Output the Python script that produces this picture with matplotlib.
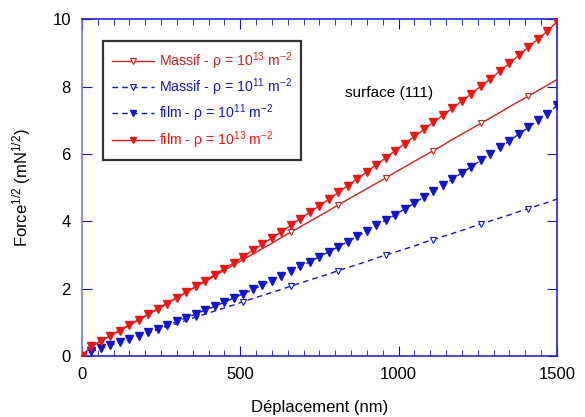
import matplotlib
matplotlib.use("Agg")
import matplotlib.pyplot as plt
import numpy as np

plt.rcParams['font.family'] = ['Liberation Sans', 'DejaVu Sans']
plt.rcParams['mathtext.default'] = 'regular'

# displacement (nm), one point every 30 nm
depl = np.arange(0, 1501, 30)

# film, rho = 1e13 (red, filled)
film_13 = [0, 0.30, 0.45, 0.60, 0.76, 0.92, 1.07, 1.24, 1.40, 1.56,
           1.73, 1.90, 2.07, 2.24, 2.42, 2.60, 2.77, 2.95, 3.14, 3.32,
           3.51, 3.69, 3.88, 4.08, 4.27, 4.46, 4.66, 4.86, 5.06, 5.27,
           5.47, 5.68, 5.89, 6.10, 6.31, 6.52, 6.73, 6.94, 7.15, 7.36,
           7.57, 7.79, 8.01, 8.23, 8.46, 8.69, 8.93, 9.17, 9.41, 9.65, 9.92]

# film, rho = 1e11 (blue, filled)
film_11 = [0, 0.15, 0.23, 0.32, 0.42, 0.51, 0.61, 0.71, 0.81, 0.92,
           1.03, 1.14, 1.25, 1.37, 1.48, 1.60, 1.73, 1.85, 1.98, 2.11,
           2.24, 2.38, 2.52, 2.66, 2.80, 2.95, 3.10, 3.25, 3.40, 3.56,
           3.71, 3.88, 4.04, 4.20, 4.37, 4.54, 4.72, 4.89, 5.07, 5.25,
           5.44, 5.62, 5.81, 6.00, 6.20, 6.39, 6.59, 6.79, 7.00, 7.20, 7.44]

# massif, rho = 1e13 (red, open)
massif_13 = [0, 0.28, 0.44, 0.61, 0.77, 0.93, 1.09, 1.25, 1.41, 1.58,
             1.74, 1.90, 2.06, 2.22, 2.38, 2.55, 2.71, 2.87, 3.03, 3.19,
             3.35, 3.52, 3.68, 3.84, 4.00, 4.16, 4.32, 4.49, 4.65, 4.81,
             4.97, 5.13, 5.29, 5.46, 5.62, 5.78, 5.94, 6.10, 6.26, 6.43,
             6.59, 6.75, 6.91, 7.07, 7.23, 7.40, 7.56, 7.72, 7.88, 8.04, 8.21]

# massif, rho = 1e11 (blue, open)
massif_11 = [0, 0.14, 0.23, 0.33, 0.42, 0.51, 0.60, 0.69, 0.79, 0.88,
             0.97, 1.06, 1.16, 1.25, 1.34, 1.43, 1.52, 1.62, 1.71, 1.80,
             1.89, 1.98, 2.08, 2.17, 2.26, 2.35, 2.44, 2.54, 2.63, 2.72,
             2.81, 2.91, 3.00, 3.09, 3.18, 3.27, 3.37, 3.46, 3.55, 3.64,
             3.73, 3.83, 3.92, 4.01, 4.10, 4.19, 4.29, 4.38, 4.47, 4.56, 4.66]

red = '#f01515'
dark_red = '#cc2222'
blue = '#1414cc'
open_marks = slice(2, None, 5)

fig = plt.figure(figsize=(5.85, 4.17), dpi=100)
ax = fig.add_axes([0.140, 0.146, 0.812, 0.808])

ax.plot(depl, massif_13, color=dark_red, lw=1, marker='v', ms=5,
        mfc='white', mec=dark_red, mew=0.8, markevery=open_marks,
        label='Massif - ρ = 10$^{13}$ m$^{-2}$', zorder=3)
ax.plot(depl, massif_11, color=blue, lw=1, ls=(0, (4, 3)), marker='v', ms=5,
        mfc='white', mec=blue, mew=0.8, markevery=open_marks,
        label='Massif - ρ = 10$^{11}$ m$^{-2}$', zorder=3)
ax.plot(depl, film_11, color=blue, lw=1, ls=(0, (4, 3)), marker='v', ms=6,
        mfc=blue, mec=blue, label='film - ρ = 10$^{11}$ m$^{-2}$', zorder=4)
ax.plot(depl, film_13, color=red, lw=1, marker='v', ms=6,
        mfc=red, mec=red, label='film - ρ = 10$^{13}$ m$^{-2}$', zorder=4)

ax.text(832, 7.8, 'surface (111)', fontsize=11, va='center', ha='left')

ax.set_xlim(0, 1500)
ax.set_ylim(0, 10)
ax.set_xticks([0, 500, 1000, 1500])
ax.set_xticks(np.arange(0, 1501, 50), minor=True)
ax.set_yticks([0, 2, 4, 6, 8, 10])
ax.tick_params(which='both', direction='in', top=True, right=True,
               labelsize=12, color=blue)
ax.tick_params(which='major', length=7, pad=8)
ax.tick_params(which='minor', length=4)

for side in ['top', 'right', 'bottom']:
    ax.spines[side].set_color('#2222dd')
    ax.spines[side].set_linewidth(1.2)
ax.spines['left'].set_color('#7777e6')
ax.spines['left'].set_linewidth(1.2)

ax.set_xlabel('Déplacement (nm)', fontsize=12, labelpad=13)
ax.set_ylabel('Force$^{1/2}$ (mN$^{1/2}$)', fontsize=12, labelpad=14)

leg = ax.legend(loc='upper left', bbox_to_anchor=(0.044, 0.935), fontsize=10.2,
                frameon=True, fancybox=False, edgecolor='black',
                borderaxespad=0, handlelength=2.95, handletextpad=0.35,
                borderpad=0.65, labelspacing=0.33, markerscale=0.8)
leg.get_frame().set_linewidth(1.6)
for txt, col in zip(leg.get_texts(), [dark_red, blue, blue, red]):
    txt.set_color(col)

fig.savefig('out.png', dpi=100)
